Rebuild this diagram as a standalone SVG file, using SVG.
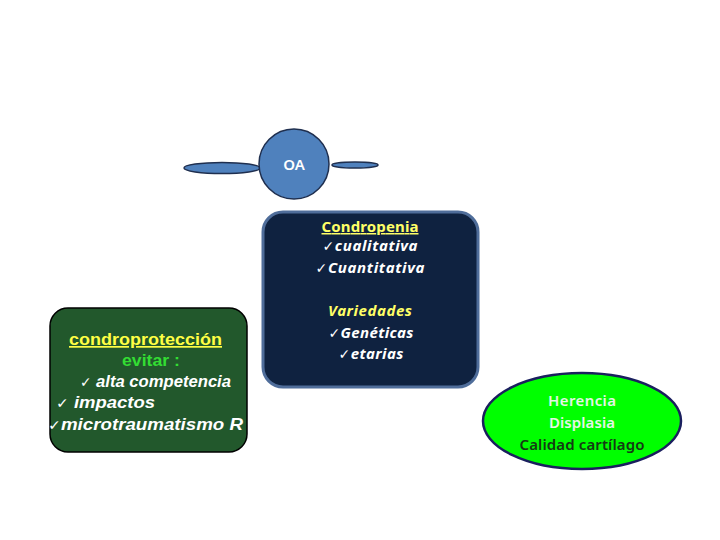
<svg xmlns="http://www.w3.org/2000/svg" width="720" height="540" viewBox="0 0 720 540">
<style>
.blue{fill:#4f81bd;stroke:#1f2f4f;stroke-width:1.5}
.cal{font-family:"Noto Sans","Open Sans","DejaVu Sans",sans-serif;text-anchor:middle}
.ar{font-family:"Liberation Sans",Arial,sans-serif;font-weight:bold}
.ck{font-family:"DejaVu Sans",sans-serif;font-weight:normal;font-style:normal}
</style>
<rect width="720" height="540" fill="#ffffff"/>
<g id="connectors">
<ellipse class="blue" cx="222" cy="168" rx="38" ry="5.5"/>
<ellipse class="blue" cx="355" cy="165" rx="23" ry="3"/>
</g>
<g id="oa">
<circle class="blue" cx="294" cy="164" r="35"/>
<text x="294" y="170" font-family="Noto Sans, sans-serif" font-size="15" font-weight="600" fill="#ffffff" text-anchor="middle">OA</text>
</g>
<g id="condropenia">
<rect x="263" y="212" width="215" height="175" rx="20" fill="#0f2240" stroke="#4f6d9a" stroke-width="3"/>
<g class="cal" font-size="15" font-weight="bold" font-style="italic" fill="#ffffff" lengthAdjust="spacing">
<text x="370" y="232" fill="#ffff66" font-style="normal" text-decoration="underline" textLength="97">Condropenia</text>
<text x="370" y="251" textLength="95"><tspan class="ck" font-size="14">✓</tspan>cualitativa</text>
<text x="370" y="273" textLength="109"><tspan class="ck" font-size="14">✓</tspan>Cuantitativa</text>
<text x="370" y="316" fill="#ffff66" textLength="84">Variedades</text>
<text x="371" y="338" textLength="85"><tspan class="ck" font-size="14">✓</tspan>Genéticas</text>
<text x="371" y="359" textLength="65"><tspan class="ck" font-size="14">✓</tspan>etarias</text>
</g>
</g>
<g id="condroproteccion">
<rect x="50" y="308" width="197" height="144" rx="18" fill="#22582c" stroke="#000000" stroke-width="1.5"/>
<g class="ar" font-size="17">
<text x="69" y="345" fill="#ffff44" text-decoration="underline" textLength="153" lengthAdjust="spacingAndGlyphs">condroprotección</text>
<text x="122" y="366" fill="#33dd33" textLength="58" lengthAdjust="spacingAndGlyphs">evitar :</text>
<text x="80" y="387" fill="#ffffff" font-style="italic" textLength="151" lengthAdjust="spacingAndGlyphs"><tspan class="ck" font-size="14">✓</tspan> alta competencia</text>
<text x="56" y="408" fill="#ffffff" font-style="italic" textLength="99" lengthAdjust="spacingAndGlyphs"><tspan class="ck" font-size="14">✓</tspan> impactos</text>
<text x="48" y="430" fill="#ffffff" font-style="italic" textLength="195" lengthAdjust="spacingAndGlyphs"><tspan class="ck" font-size="14">✓</tspan>microtraumatismo R</text>
</g>
</g>
<g id="herencia">
<ellipse cx="582" cy="421" rx="99" ry="48" fill="#00ff00" stroke="#1a1f5e" stroke-width="2.5"/>
<g class="cal" font-size="15" font-weight="600">
<text x="582" y="406" fill="#e6f5e6" textLength="68" lengthAdjust="spacing">Herencia</text>
<text x="582" y="428" fill="#e6f5e6" textLength="66" lengthAdjust="spacing">Displasia</text>
<text x="582" y="450" fill="#153a15" textLength="125" lengthAdjust="spacing">Calidad cartílago</text>
</g>
</g>
</svg>
